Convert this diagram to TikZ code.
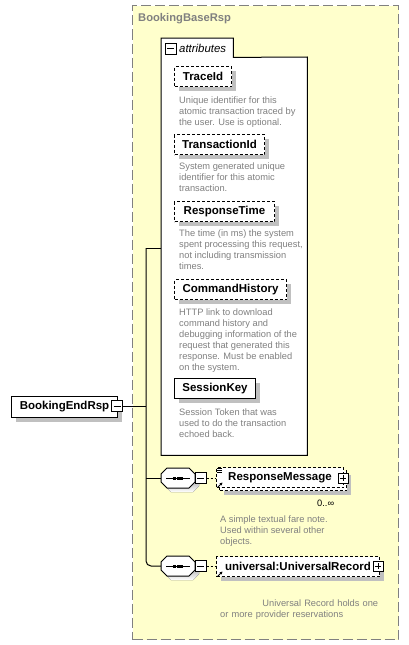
\documentclass[tikz,border=0pt]{standalone}
\usepackage{fontspec}
\setmainfont{Liberation Sans}
\usetikzlibrary{shadows,calc,arrows.meta}
\definecolor{bgyellow}{HTML}{FFFFCC}
\definecolor{framegray}{HTML}{808080}
\definecolor{shade}{HTML}{C0C0C0}
\definecolor{descgray}{HTML}{808080}
\tikzset{
  conn/.style={draw=black, line width=1pt},
  elem/.style={draw=black, fill=white, line width=1pt, minimum height=20pt, inner sep=0pt,
    anchor=north west, font=\fontsize{11.5}{13}\selectfont\bfseries,
    general shadow={fill=shade, shadow xshift=4pt, shadow yshift=-4pt}},
  optelem/.style={elem, dash pattern=on 3pt off 2pt},
  optnoshadow/.style={draw=black, fill=white, line width=1pt, minimum height=20pt, inner sep=0pt,
    anchor=north west, font=\fontsize{11.5}{13}\selectfont\bfseries, dash pattern=on 3pt off 2pt},
  desctext/.style={anchor=base west, inner sep=0pt, align=left, text=descgray,
    font=\fontsize{9.3}{11}\selectfont},
  minusbox/.style={draw=black, fill=white, line width=1pt, minimum size=11pt, inner sep=0pt,
    path picture={\draw[line width=1pt] ([xshift=2pt]path picture bounding box.west) -- ([xshift=-2pt]path picture bounding box.east);}},
  plusbox/.style={draw=black, fill=white, line width=1pt, minimum size=10pt, inner sep=0pt,
    path picture={\draw[line width=1pt] ([xshift=2pt]path picture bounding box.west) -- ([xshift=-2pt]path picture bounding box.east);
      \draw[line width=1pt] ([yshift=-2pt]path picture bounding box.north) -- ([yshift=2pt]path picture bounding box.south);}},
  seqbox/.style={inner sep=0pt, minimum width=34pt, minimum height=20pt},
  octagon/.style={line width=1pt},
}
\newcommand{\seqsymbol}{%
  \fill[shade, shift={(4,4)}] (-11,-10) -- (11,-10) -- (17,-4) -- (17,4) -- (11,10) -- (-11,10) -- (-17,4) -- (-17,-4) -- cycle;
  \filldraw[octagon, fill=white] (-11,-10) -- (11,-10) -- (17,-4) -- (17,4) -- (11,10) -- (-11,10) -- (-17,4) -- (-17,-4) -- cycle;
  \draw[line width=1pt] (-12,0) -- (12,0);
  \fill (-5,-1.5) rectangle ++(3,3);
  \fill (-1.5,-1.5) rectangle ++(3,3);
  \fill (2,-1.5) rectangle ++(3,3);
}
\begin{document}
\begin{tikzpicture}[x=1pt,y=-1pt]
\useasboundingbox (0,0) rectangle (408,645);
% base type frame
\node[draw=framegray, dash pattern=on 10pt off 4pt, fill=bgyellow, line width=1pt,
  minimum width=266pt, minimum height=634pt, anchor=north west, inner sep=0pt] (base) at (132,5) {};
\node[anchor=west, inner sep=0pt, text=framegray, font=\fontsize{11.2}{13}\selectfont\bfseries] (baselabel) at (138,19) {BookingBaseRsp};
% attributes box
\node[inner sep=0pt, minimum width=146pt, minimum height=398pt, anchor=north west] (attrbody) at (161,57) {};
\node[inner sep=0pt, minimum width=72pt, minimum height=19pt, anchor=north west] (attrtab) at (161,38) {};
\draw[fill=white, line width=1pt] (attrbody.south west) -- (attrtab.north west) -- (attrtab.north east)
  -- (attrtab.south east) -- (attrbody.north east) -- (attrbody.south east) -- cycle;
\node[minusbox] (attrminus) at (170.5,48.5) {};
\node[anchor=west, inner sep=0pt, font=\fontsize{11.4}{13}\selectfont\itshape] (attrlabel) at (179,48) {attributes};
% attributes
\node[optelem, minimum width=57pt] (traceid) at (174,66) {TraceId};
\node[desctext] (traceiddesc) at (179,125) {Unique identifier for this\\atomic transaction traced by\\the user. Use is optional.};
\node[optelem, minimum width=90pt] (transid) at (174,134) {TransactionId};
\node[desctext] (transiddesc) at (179,191) {System generated unique\\identifier for this atomic\\transaction.};
\node[optelem, minimum width=100pt] (resptime) at (174,201) {ResponseTime};
\node[desctext] (resptimedesc) at (179,269) {The time (in ms) the system\\spent processing this request,\\not including transmission\\times.};
\node[optelem, minimum width=112pt] (cmdhist) at (174,279) {CommandHistory};
\node[desctext] (cmdhistdesc) at (179,370) {HTTP link to download\\command history and\\debugging information of the\\request that generated this\\response. Must be enabled\\on the system.};
\node[elem, minimum width=81pt] (sesskey) at (174,378) {SessionKey};
\node[desctext] (sesskeydesc) at (179,437) {Session Token that was\\used to do the transaction\\echoed back.};
% root element
\node[elem, minimum width=106pt, minimum height=21pt] (endrsp) at (11,396) {BookingEndRsp};
\node[minusbox] (endminus) at (117,406) {};
% sequence 1
\node[seqbox] (seq1) at (178,478) {};
\begin{scope}[shift={(seq1.center)}]\seqsymbol\end{scope}
\node[minusbox] (s1minus) at (200.5,478) {};
\node[optelem, minimum width=127pt] (respmsgback) at (219,470) {};
\node[optnoshadow, minimum width=127pt] (respmsg) at (216,467) {ResponseMessage};
\node[plusbox] (rmplus) at (343,478) {};
\draw[line width=0.8pt] (217,468.5) -- (222,468.5) (217,470.5) -- (222,470.5) (217,472.5) -- (222,472.5);
\draw[line width=1pt, -{Stealth[length=3pt,width=3pt]}] (217.5,487.5) -- (222.5,482.5);
\node[anchor=base west, inner sep=0pt, font=\fontsize{9.3}{11}\selectfont] (rmmult) at (317,506) {0..∞};
\node[desctext] (respmsgdesc) at (220,544) {A simple textual fare note.\\Used within several other\\objects.};
% sequence 2
\node[seqbox] (seq2) at (178,566) {};
\begin{scope}[shift={(seq2.center)}]\seqsymbol\end{scope}
\node[minusbox] (s2minus) at (200.5,566) {};
\node[optelem, minimum width=163pt] (univ) at (216,556) {universal:UniversalRecord};
\node[plusbox] (univplus) at (378,566) {};
\draw[line width=1pt, -{Stealth[length=3pt,width=3pt]}] (217.5,576.5) -- (222.5,571.5);
\node[desctext, text width=158pt] (univdesc) at (220,606) {\hspace*{\fill}Universal Record holds one\\or more provider reservations};
% connectors
\coordinate (jtop) at (146,248);
\draw[conn] (jtop) -- (jtop -| attrbody.west);
\draw[conn, rounded corners=5pt] (jtop) |- (seq2.west);
\draw[conn] (endminus.east) -- (endminus.east -| jtop);
\draw[conn] (seq1.west -| jtop) -- (seq1.west);
\draw[line width=1pt, dash pattern=on 2pt off 2pt] (s1minus.east) -- (respmsg.west |- s1minus.east);
\draw[line width=1pt, dash pattern=on 2pt off 2pt] (s2minus.east) -- (univ.west |- s2minus.east);
\end{tikzpicture}
\end{document}
